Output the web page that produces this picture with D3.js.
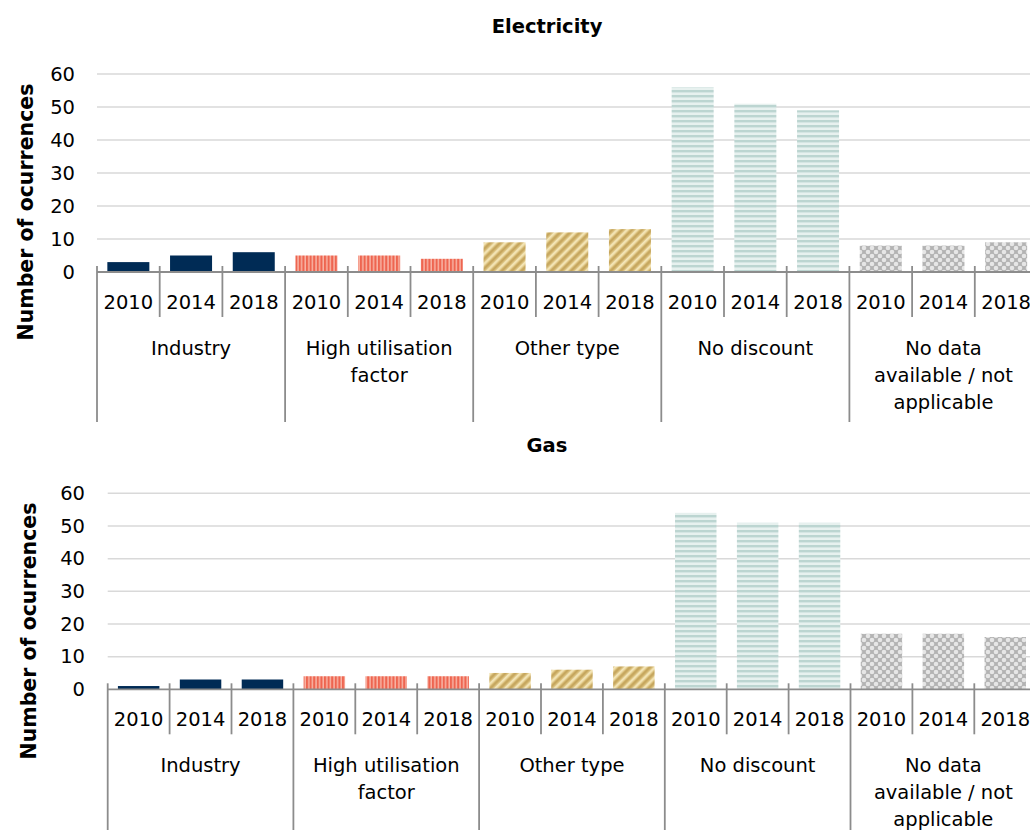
<!DOCTYPE html>
<html>
<head>
<meta charset="utf-8">
<script src="https://cdn.jsdelivr.net/npm/d3@7"></script>
<style>
  html, body { margin: 0; padding: 0; background: #fff; }
  svg { display: block; font-family: "DejaVu Sans", Verdana, sans-serif; }
</style>
</head>
<body>
<svg id="chart" width="1030" height="830"></svg>
<script>
// Discount types, survey years and number of occurrences per year
const categories = ["Industry", "High utilisation\nfactor", "Other type", "No discount", "No data\navailable / not\napplicable"];
const years = ["2010", "2014", "2018"];
const electricityValues = [[3, 5, 6], [5, 5, 4], [9, 12, 13], [56, 51, 49], [8, 8, 9]];
const gasValues = [[1, 3, 3], [4, 4, 4], [5, 6, 7], [54, 51, 51], [17, 17, 16]];
const yTicks = [0, 10, 20, 30, 40, 50, 60];
const panelTitles = ["Electricity", "Gas"];
const yAxisTitle = "Number of ocurrences";

const svg = d3.select("#chart");
const defs = svg.append("defs");

// Fill patterns, one per discount type
function makePatterns() {
  // solid navy
  // vertical stripes
  const pv = defs.append("pattern").attr("id", "pat1")
    .attr("patternUnits", "userSpaceOnUse").attr("width", 3.6).attr("height", 4);
  pv.append("rect").attr("width", 3.6).attr("height", 4).attr("fill", "#f8b3a4");
  pv.append("rect").attr("width", 2.1).attr("height", 4).attr("fill", "#ee6550");

  // diagonal stripes
  const g = defs.append("linearGradient").attr("id", "diagGrad")
    .attr("x1", "0").attr("x2", "1").attr("y1", "0").attr("y2", "0");
  [[0, "#bf9e55"], [0.3, "#d6ba74"], [0.55, "#fbf0c9"], [0.8, "#dfc684"], [1, "#bf9e55"]]
    .forEach(([o, c]) => g.append("stop").attr("offset", o).attr("stop-color", c));
  const pd = defs.append("pattern").attr("id", "pat2")
    .attr("patternUnits", "userSpaceOnUse").attr("width", 7).attr("height", 7)
    .attr("patternTransform", "rotate(45)");
  pd.append("rect").attr("width", 7).attr("height", 7).attr("fill", "url(#diagGrad)");

  // horizontal stripes
  const ph = defs.append("pattern").attr("id", "pat3")
    .attr("patternUnits", "userSpaceOnUse").attr("width", 6).attr("height", 5);
  ph.append("rect").attr("width", 6).attr("height", 5).attr("fill", "#e7f1ef");
  ph.append("rect").attr("width", 6).attr("height", 2.4).attr("fill", "#bcd5d1");

  // weave
  const pw = defs.append("pattern").attr("id", "pat4")
    .attr("patternUnits", "userSpaceOnUse").attr("width", 8).attr("height", 8);
  pw.append("rect").attr("width", 8).attr("height", 8).attr("fill", "#b3b3b3");
  [[0, 0], [8, 0], [0, 8], [8, 8], [4, 4]].forEach(([cx, cy]) =>
    pw.append("circle").attr("cx", cx).attr("cy", cy).attr("r", 2.3).attr("fill", "#e6e6e6"));
}
makePatterns();
const fills = ["#002b55", "url(#pat1)", "url(#pat2)", "url(#pat3)", "url(#pat4)"];

const gridColor = "#d9d9d9";
const axisColor = "#8c8c8c";
const fontSize = 19.5;

function drawPanel(cfg) {
  const { title, values, left, step, y0, y60, titleY, yTitleX, yTitleY, tickRight } = cfg;
  const g = svg.append("g");
  const slots = [];
  categories.forEach((c, ci) => years.forEach((yr, yi) => slots.push({ key: ci + "-" + yi, ci, yi, year: yr, value: values[ci][yi] })));

  const right = left + step * slots.length;
  const x = d3.scaleBand().domain(slots.map(d => d.key)).range([left, right])
    .paddingInner(0.33).paddingOuter(0.165);
  const y = d3.scaleLinear().domain([0, 60]).range([y0, y60]);

  // panel title
  g.append("text").attr("x", 547).attr("y", titleY).attr("text-anchor", "middle")
    .attr("font-weight", "bold").attr("font-size", fontSize).attr("fill", "#000").text(title);

  // y axis title
  g.append("text").attr("transform", `translate(${yTitleX},${yTitleY}) rotate(-90)`)
    .attr("text-anchor", "middle").attr("font-weight", "bold").attr("font-size", 20.5)
    .attr("fill", "#000").text(yAxisTitle);

  // gridlines
  g.append("g").selectAll("line").data(yTicks.filter(t => t > 0)).join("line")
    .attr("x1", left).attr("x2", right).attr("y1", d => y(d)).attr("y2", d => y(d))
    .attr("stroke", gridColor).attr("stroke-width", 1.5);

  // y tick labels
  const yAxis = d3.axisLeft(y).tickValues(yTicks).tickSize(0).tickPadding(0);
  const ya = g.append("g").attr("transform", `translate(${tickRight},0)`).call(yAxis);
  ya.select(".domain").remove();
  ya.selectAll("text").attr("font-size", fontSize).attr("font-family", "DejaVu Sans, sans-serif").attr("fill", "#000");

  // bars
  g.append("g").selectAll("rect").data(slots).join("rect")
    .attr("x", d => x(d.key)).attr("width", x.bandwidth())
    .attr("y", d => y(d.value)).attr("height", d => y(0) - y(d.value))
    .attr("fill", d => fills[d.ci]);

  // category axis line
  g.append("line").attr("x1", left).attr("x2", right).attr("y1", y0).attr("y2", y0)
    .attr("stroke", axisColor).attr("stroke-width", 1.8);

  // slot boundary lines: short between years, long between categories
  const bounds = d3.range(slots.length + 1);
  g.append("g").selectAll("line").data(bounds).join("line")
    .attr("x1", i => left + i * step).attr("x2", i => left + i * step)
    .attr("y1", y0 - 6).attr("y2", i => (i % 3 === 0 ? y0 + 150 : y0 + 45))
    .attr("stroke", axisColor).attr("stroke-width", 1.8);

  // year labels
  g.append("g").selectAll("text").data(slots).join("text")
    .attr("x", d => x(d.key) + x.bandwidth() / 2).attr("y", y0 + 37)
    .attr("text-anchor", "middle").attr("font-size", fontSize).attr("fill", "#000")
    .text(d => d.year);

  // category labels
  const cat = g.append("g").selectAll("text").data(categories).join("text")
    .attr("text-anchor", "middle").attr("font-size", fontSize).attr("fill", "#000");
  cat.each(function (c, ci) {
    const cx = left + (ci * 3 + 1.5) * step;
    c.split("\n").forEach((line, li) => {
      d3.select(this).append("tspan").attr("x", cx).attr("y", y0 + 83 + li * 27).text(line);
    });
  });
}

drawPanel({ title: panelTitles[0], values: electricityValues, left: 97, step: 62.7, y0: 272, y60: 74,
  titleY: 33, yTitleX: 33, yTitleY: 212, tickRight: 75 });
drawPanel({ title: panelTitles[1], values: gasValues, left: 107.7, step: 61.9, y0: 689.3, y60: 493.3,
  titleY: 452, yTitleX: 36, yTitleY: 631, tickRight: 85 });
</script>
</body>
</html>
